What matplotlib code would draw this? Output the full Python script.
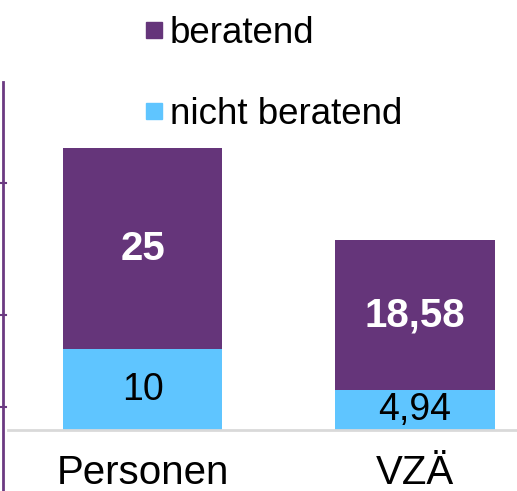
import matplotlib.pyplot as plt
from matplotlib.lines import Line2D

plt.rcParams['font.family'] = ['Liberation Sans', 'DejaVu Sans']

# Daten
kategorien = ['Personen', 'VZÄ']
nicht_beratend = [10, 4.94]
beratend = [25, 18.58]
farbe_beratend = '#65357A'
farbe_nicht = '#5FC5FF'


def fmt(v):
    return ('%g' % v).replace('.', ',')


fig = plt.figure(figsize=(5.17, 4.91), dpi=100)
ax = fig.add_axes([8 / 517, 61 / 491, 509 / 517, 430 / 491])

x = range(len(kategorien))
ax.bar(x, nicht_beratend, width=0.585, color=farbe_nicht)
ax.bar(x, beratend, width=0.585, bottom=nicht_beratend, color=farbe_beratend)

for i in x:
    ax.text(i, nicht_beratend[i] / 2, fmt(nicht_beratend[i]), ha='center', va='center',
            fontsize=27, color='black')
    ax.text(i, nicht_beratend[i] + beratend[i] / 2, fmt(beratend[i]), ha='center', va='center',
            fontsize=29, color='white', fontweight='bold')

ax.set_xlim(-0.494, 1.374)
ax.set_ylim(0, 53.35)
ax.set_xticks(list(x))
ax.set_xticklabels(kategorien, fontsize=29)
ax.tick_params(axis='x', length=0, pad=17)
ax.set_yticks([])
for s in ['top', 'right', 'left']:
    ax.spines[s].set_visible(False)
ax.spines['bottom'].set_color('#D9D9D9')
ax.spines['bottom'].set_linewidth(2)

# Legende (beratend oben)
handles = [Line2D([], [], ls='none', marker='s', markersize=11.5, color=farbe_beratend),
           Line2D([], [], ls='none', marker='s', markersize=11.5, color=farbe_nicht)]
fig.legend(handles, ['beratend', 'nicht beratend'], loc='upper left',
           bbox_to_anchor=(120 / 517, 1 + 10 / 491), frameon=False, fontsize=26.5,
           handlelength=0.45, handletextpad=0.2,
           labelspacing=1.25, borderaxespad=0.3)

# linke Achsenlinie (Rest eines Nachbardiagramms)
fig.add_artist(Line2D([2.5 / 517, 2.5 / 517], [0, 1 - 82 / 491], color='#6B3A82', lw=2))
for yp in [183, 315, 407]:
    fig.add_artist(Line2D([0, 6 / 517], [1 - yp / 491] * 2, color='#6B3A82', lw=1.5))

fig.savefig('out.png', dpi=100)
